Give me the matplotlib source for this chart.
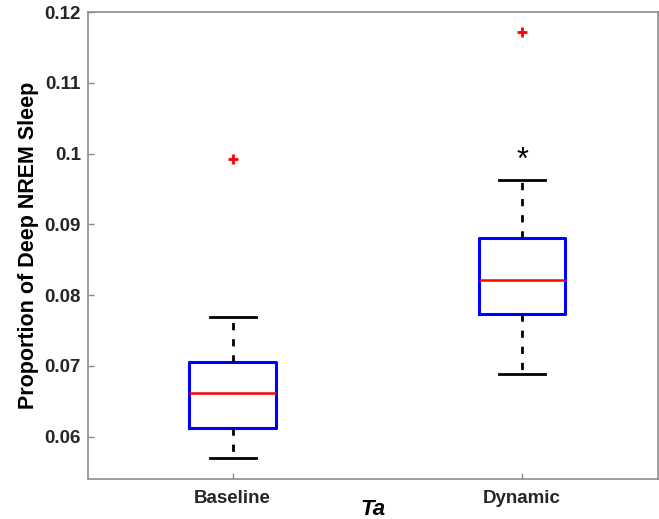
import numpy as np
import matplotlib
matplotlib.use('Agg')
import matplotlib.pyplot as plt

# 数据
groups = ['Baseline', 'Dynamic']
whislo = [0.0570, 0.0689]
q1 = [0.0612, 0.0773]
med = [0.0661, 0.0821]
q3 = [0.0705, 0.0880]
whishi = [0.0769, 0.0963]
outliers = [[0.0992], [0.1172]]
star_y = 0.0990  # 显著性标记

plt.rcParams['font.family'] = ['Liberation Sans', 'DejaVu Sans']

fig = plt.figure(figsize=(6.59, 5.19), dpi=100)
ax = fig.add_axes([88 / 659, 40 / 519, 570 / 659, 467 / 519])

stats = []
for i in range(len(groups)):
    stats.append(dict(label=groups[i], whislo=whislo[i], q1=q1[i], med=med[i],
                      q3=q3[i], whishi=whishi[i], fliers=outliers[i]))

ax.bxp(stats, positions=[1, 2], widths=0.30, showfliers=True,
       boxprops=dict(color='#0000ff', linewidth=2.2),
       medianprops=dict(color='#ff0000', linewidth=1.8),
       whiskerprops=dict(color='black', linewidth=2.0, linestyle=(0, (2.6, 3.2))),
       capprops=dict(color='black', linewidth=2.0),
       capwidths=0.16,
       flierprops=dict(marker='+', markeredgecolor='#ff0000', markersize=7, markeredgewidth=2.0))

ax.text(2, star_y, '*', ha='center', va='center', fontsize=22, color='black')

ax.set_xlim(0.5, 2.47)
ax.set_ylim(0.054, 0.12)
ax.set_yticks([0.06, 0.07, 0.08, 0.09, 0.1, 0.11, 0.12])
ax.set_yticklabels(['0.06', '0.07', '0.08', '0.09', '0.1', '0.11', '0.12'])
ax.set_xticks([1, 2])
ax.set_xticklabels(groups)

for lab in ax.get_xticklabels() + ax.get_yticklabels():
    lab.set_fontweight('bold')
    lab.set_fontsize(13.5)
    lab.set_color('#262626')

for s in ax.spines.values():
    s.set_color('#8c8c8c')
    s.set_linewidth(1.2)
ax.tick_params(direction='in', length=4, color='#8c8c8c', width=1.0)
ax.tick_params(axis='y', pad=5)
ax.tick_params(axis='x', pad=8)

ax.set_ylabel('Proportion of Deep NREM Sleep', fontsize=15.5, fontweight='bold', labelpad=4)
ax.set_xlabel('Ta', fontsize=16, fontweight='bold', fontstyle='italic', labelpad=-6)

fig.savefig('out.png', dpi=100)
